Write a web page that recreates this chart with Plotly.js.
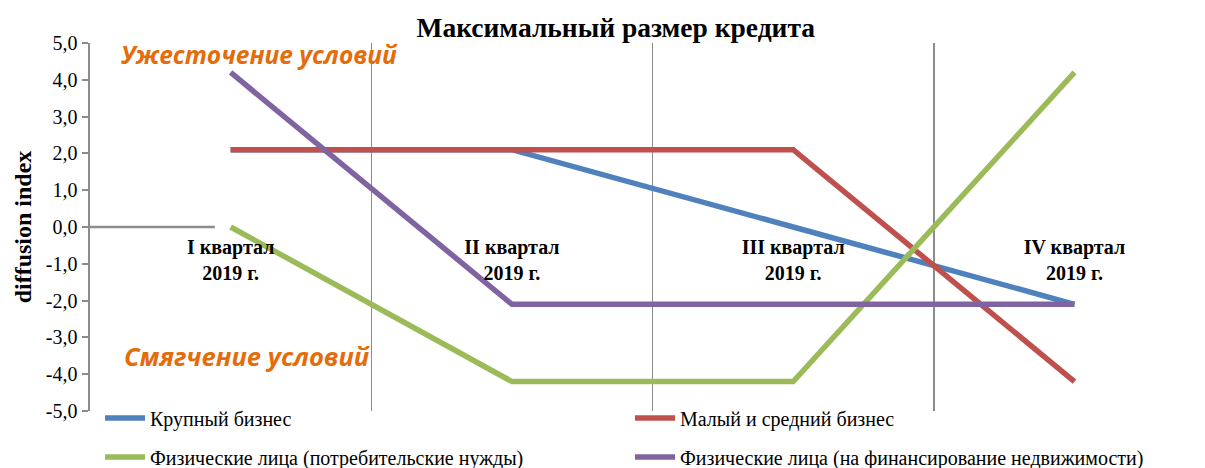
<!DOCTYPE html>
<html>
<head>
<meta charset="utf-8">
<script src="https://cdn.plot.ly/plotly-3.0.1.min.js"></script>
<style>html,body{margin:0;padding:0;background:#fff;}#chart{width:1205px;height:468px;}</style>
</head>
<body>
<div id="chart"></div>
<script>
const categories = ["I квартал<br>2019 г.", "II квартал<br>2019 г.", "III квартал<br>2019 г.", "IV квартал<br>2019 г."];
const seriesNames = ["Крупный бизнес", "Малый и средний бизнес", "Физические лица (потребительские нужды)", "Физические лица (на финансирование недвижимости)"];
const large = [2.1, 2.1, 0.0, -2.1];
const smallMedium = [2.1, 2.1, 2.1, -4.2];
const consumer = [0.0, -4.2, -4.2, 4.2];
const realEstate = [4.2, -2.1, -2.1, -2.1];
const yTickVals = [5, 4, 3, 2, 1, 0, -1, -2, -3, -4, -5];
const yTickText = ["5,0", "4,0", "3,0", "2,0", "1,0", "0,0", "-1,0", "-2,0", "-3,0", "-4,0", "-5,0"];

const colors = ["#4F81BD", "#C0504D", "#9BBB59", "#8064A2"];
const values = [large, smallMedium, consumer, realEstate];
const legendIds = ["legend", "legend", "legend2", "legend2"];
const serif = "Liberation Serif, Times New Roman, serif";

const traces = values.map((v, i) => ({
  type: "scatter",
  mode: "lines",
  x: categories,
  y: v,
  name: seriesNames[i],
  line: {color: colors[i], width: 5.5},
  legend: legendIds[i],
  hoverinfo: "skip"
}));

const legendCommon = {
  orientation: "h",
  xref: "container", yref: "container",
  x: 0.083,
  xanchor: "left",
  yanchor: "middle",
  entrywidth: 475,
  entrywidthmode: "pixels",
  font: {family: serif, size: 20, color: "#000"},
  bgcolor: "rgba(0,0,0,0)",
  borderwidth: 0,
  itemwidth: 40
};

const layout = {
  width: 1205, height: 468,
  margin: {l: 90, r: 0, t: 43, b: 57, autoexpand: false},
  paper_bgcolor: "#fff", plot_bgcolor: "#fff",
  title: {
    text: "<b>Максимальный размер кредита</b>",
    font: {family: serif, size: 27.5, color: "#000"},
    xref: "container", x: 0.511, xanchor: "center",
    yref: "container", y: 0.942, yanchor: "middle"
  },
  xaxis: {
    type: "category",
    range: [-0.5, 3.464],
    anchor: "free", position: 0.5,
    showline: false, zeroline: false,
    ticks: "", tickson: "boundaries",
    showgrid: true, gridcolor: "#8c8c8c", gridwidth: 1.5,
    tickfont: {family: serif, size: 20, color: "#000", weight: "bold"},
    ticklabelstandoff: 6,
    fixedrange: true
  },
  yaxis: {
    range: [-5, 5],
    tickvals: yTickVals, ticktext: yTickText,
    showline: true, linecolor: "#8c8c8c", linewidth: 2.5,
    ticks: "outside", ticklen: 6, tickcolor: "#8c8c8c", tickwidth: 2,
    showgrid: false, zeroline: false,
    tickfont: {family: serif, size: 20, color: "#000"},
    title: {text: "<b>diffusion index</b>", font: {family: serif, size: 24, color: "#000"}, standoff: 8},
    fixedrange: true
  },
  shapes: [
    {type: "line", xref: "x", yref: "y", x0: -0.5, x1: -0.056, y0: 0, y1: 0, line: {color: "#8c8c8c", width: 2.5}, layer: "below"}
  ],
  annotations: [
    {text: "<b><i>Ужесточение условий</i></b>", xref: "paper", yref: "y", x: 0.026, y: 4.68, xanchor: "left", yanchor: "middle", showarrow: false,
     font: {family: "Open Sans, sans-serif", size: 24.5, color: "#E46C0A"}},
    {text: "<b><i>Смягчение условий</i></b>", xref: "paper", yref: "y", x: 0.029, y: -3.5, xanchor: "left", yanchor: "middle", showarrow: false,
     font: {family: "Open Sans, sans-serif", size: 25.5, color: "#E46C0A"}}
  ],
  legend: Object.assign({}, legendCommon, {y: 0.107}),
  legend2: Object.assign({}, legendCommon, {y: 0.0235}),
  showlegend: true
};

Plotly.newPlot("chart", traces, layout, {displayModeBar: false, staticPlot: true});
</script>
</body>
</html>
